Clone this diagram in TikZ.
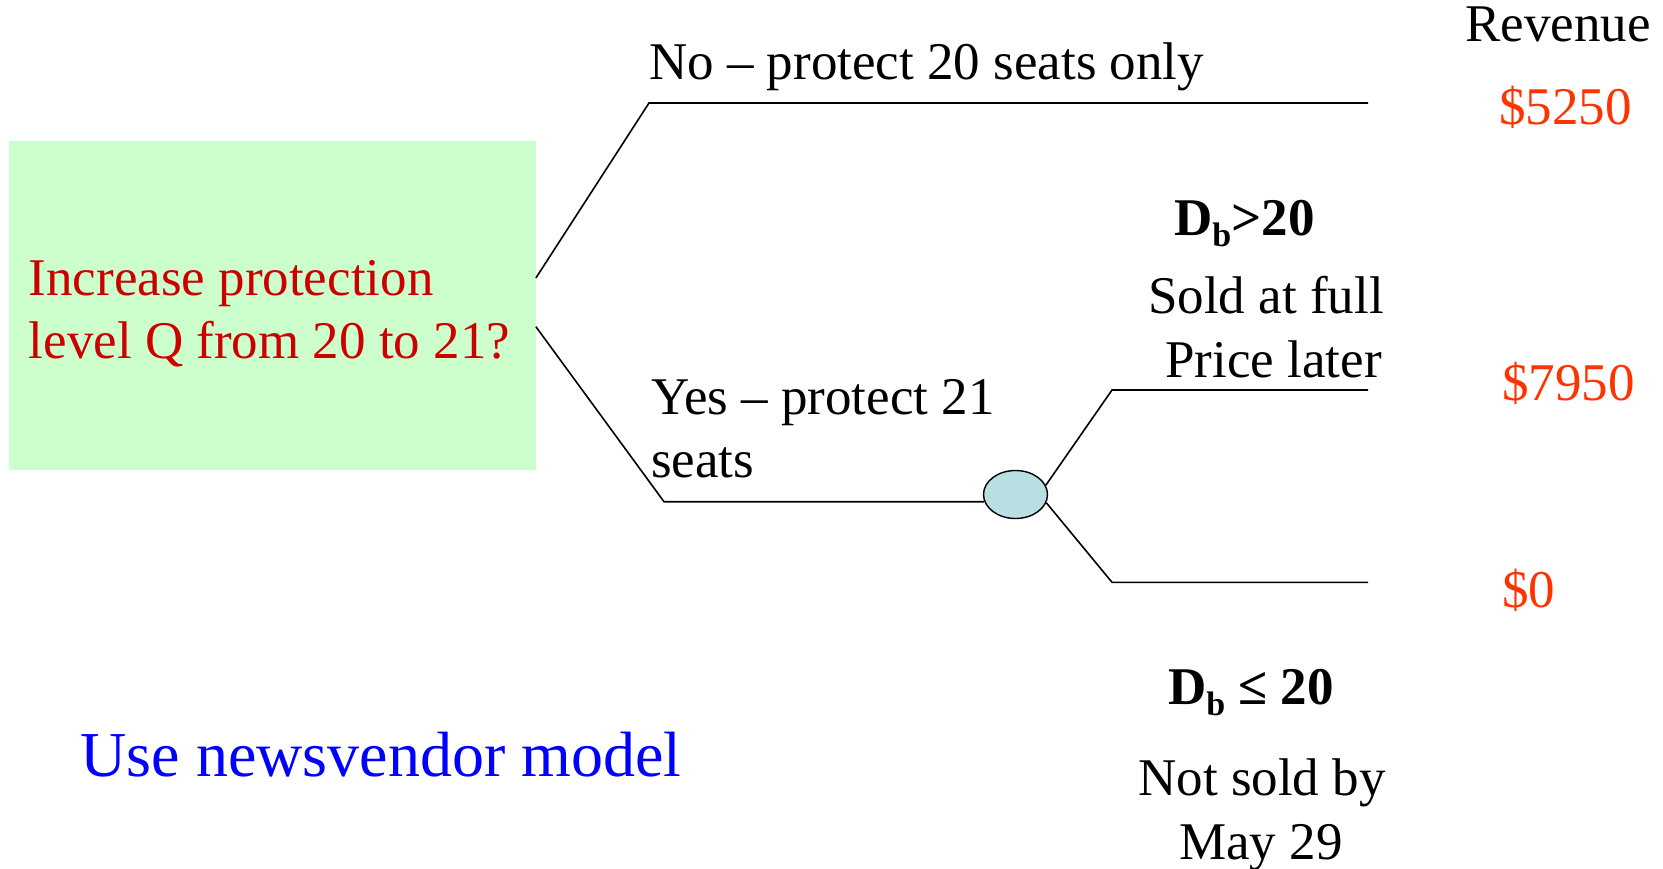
\documentclass[tikz,border=0pt]{standalone}
\usepackage{fontspec}
\setmainfont{Liberation Serif}
\usetikzlibrary{shapes.geometric,calc}
\definecolor{boxgreen}{RGB}{204,255,204}
\definecolor{qred}{RGB}{204,0,0}
\definecolor{payoff}{RGB}{255,51,0}
\definecolor{chancefill}{RGB}{185,223,226}
\definecolor{noteblue}{RGB}{0,0,255}
% lowered subscript "b" for the demand symbol D_b
\newcommand\dsub{\raisebox{-11pt}{\fontsize{34}{34}\selectfont b}}
\begin{document}
\begin{tikzpicture}[x=1pt,y=-1pt,
  txt/.style={inner sep=0pt, font=\fontsize{53}{64}\selectfont},
  lbl/.style={txt, anchor=base west},
  ctr/.style={txt, anchor=base},
  pay/.style={lbl, text=payoff},
  branch/.style={line width=1.6pt, line join=miter}]
\useasboundingbox (0,0) rectangle (1663,869);

% decision box
\node[fill=boxgreen, minimum width=527pt, minimum height=329pt, inner sep=0pt,
      anchor=north west] (box) at (8.5,141) {};
\node[lbl, text=qred] (q1) at (28.6,295) {Increase protection};
\node[lbl, text=qred] (q2) at (28.6,358.5) {level Q from 20 to 21?};

% chance node
\node[ellipse, draw, fill=chancefill, line width=1.4pt, minimum width=64pt,
      minimum height=48pt, inner sep=0pt] (chance) at (1015.5,494.5) {};

% branch end points
\coordinate (noBend) at (649,103);
\coordinate (noEnd) at (1368,103);
\coordinate (yesBend) at (664,501.7);
\coordinate (hiBend) at (1112,390);
\coordinate (hiEnd) at (1368,390);
\coordinate (loBend) at (1112,582.3);
\coordinate (loEnd) at (1368,582.3);

% decision branches
\draw[branch] ($(box.north east)+(0,137)$) -- (noBend) -- (noEnd);
\draw[branch] ($(box.north east)+(0,185.7)$) -- (yesBend |- chance.193) -- (chance.193);
% chance branches
\draw[branch] (chance.17) -- (hiBend) -- (hiEnd);
\draw[branch] (chance.-15) -- (loBend) -- (loEnd);

% branch labels
\node[lbl] (noLbl) at (649,79.5) {No – protect 20 seats only};
\node[lbl] (yesLbl1) at (651,414.7) {Yes – protect 21};
\node[lbl] (yesLbl2) at (651,477) {seats};

\node[lbl, font=\fontsize{53}{64}\selectfont\bfseries] (hiCond) at (1174,236) {D\dsub>20};
\node[txt, anchor=base east] (hiTxt1) at (1384,313) {Sold at full};
\node[txt, anchor=base east] (hiTxt2) at (1382,377.3) {Price later};

\node[lbl, font=\fontsize{53}{64}\selectfont\bfseries] (loCond) at (1168,704) {D\dsub{} ≤ 20};
\node[ctr] (loTxt1) at (1262,795) {Not sold by};
\node[ctr] (loTxt2) at (1261,859) {May 29};

% revenues
\node[lbl] (revHead) at (1465,42) {Revenue};
\node[pay] (rev1) at (1499,125) {\$5250};
\node[pay] (rev2) at (1502,400.7) {\$7950};
\node[pay] (rev3) at (1502,607.7) {\$0};

% note
\node[lbl, text=noteblue, font=\fontsize{64}{76}\selectfont] (note) at (80.4,776.7) {Use newsvendor model};
\end{tikzpicture}
\end{document}
